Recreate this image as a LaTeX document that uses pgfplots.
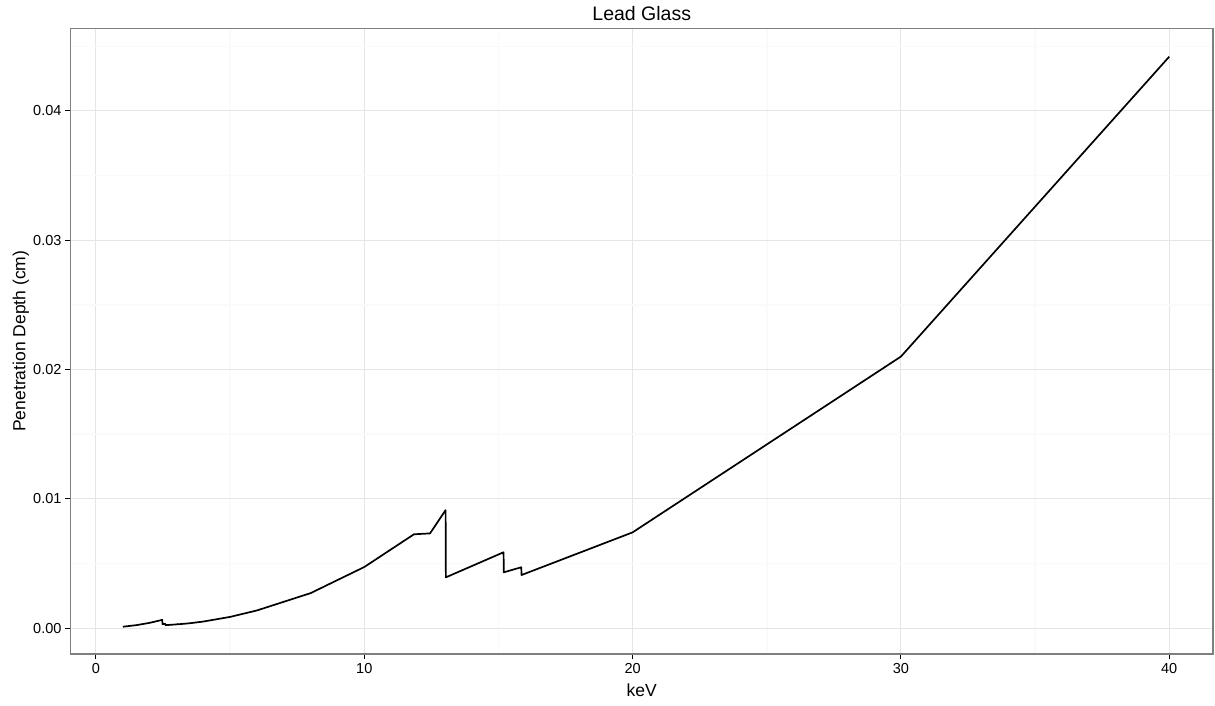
\documentclass[border=0pt]{standalone}
\usepackage{pgfplots}
\pgfplotsset{compat=1.18}
\usepackage{fontspec}
\setmainfont{Liberation Sans}
\definecolor{grey50}{RGB}{127,127,127}
\definecolor{grey90}{RGB}{229,229,229}
\definecolor{grey98}{RGB}{250,250,250}
\begin{document}
\begin{tikzpicture}
\begin{axis}[
    scale only axis,
    width=1142.5pt, height=625.5pt,
    xmin=-0.95, xmax=41.63,
    ymin=-0.00201, ymax=0.04638,
    xtick={0,10,20,30,40},
    ytick={0,0.01,0.02,0.03,0.04},
    minor xtick={5,15,25,35},
    minor ytick={0.005,0.015,0.025,0.035,0.045},
    scaled y ticks=false,
    /pgf/number format/assume math mode=true,
    yticklabel style={/pgf/number format/.cd, fixed, fixed zerofill, precision=2},
    grid=both,
    major grid style={grey90, line width=1pt},
    minor grid style={grey98, line width=1.5pt},
    axis line style={grey50, line width=1.1pt},
    tick align=outside, tick pos=left,
    major tick length=5.5pt, minor tick length=0pt,
    tick style={black, line width=1pt},
    ticklabel style={font=\fontsize{14.5}{17}\selectfont, text=black},
    title={Lead Glass},
    title style={at={(axis description cs:0.5,1.0136)}, anchor=center, font=\fontsize{19.5}{22}\selectfont},
    xlabel={keV},
    xlabel style={at={(axis description cs:0.5,-0.0576)}, anchor=center, font=\fontsize{17.5}{20}\selectfont},
    ylabel={Penetration Depth (cm)},
    ylabel style={at={(axis description cs:-0.0434,0.5)}, anchor=center, font=\fontsize{17.5}{20}\selectfont},
]
\addplot[black, line width=1.7pt, line join=round] coordinates {
    (1.0, 0.00010)
    (1.5, 0.00022)
    (2.0, 0.00040)
    (2.47, 0.00063)
    (2.48, 0.00030)
    (2.58, 0.00033)
    (2.59, 0.00022)
    (3.0, 0.00028)
    (3.06, 0.00031)
    (3.07, 0.00029)
    (3.5, 0.00037)
    (4.0, 0.00050)
    (5.0, 0.00086)
    (6.0, 0.00136)
    (8.0, 0.00270)
    (10.0, 0.00472)
    (11.85, 0.00725)
    (12.45, 0.00732)
    (13.03, 0.00912)
    (13.04, 0.00392)
    (15.19, 0.00586)
    (15.2, 0.00431)
    (15.85, 0.00470)
    (15.86, 0.00410)
    (20.0, 0.00740)
    (30.0, 0.02100)
    (40.0, 0.04420)
};
\end{axis}
\pgfresetboundingbox
\path (current axis.south west) ++(-70.5pt,-52pt) rectangle ++(1215pt,706pt);
\end{tikzpicture}
\end{document}
